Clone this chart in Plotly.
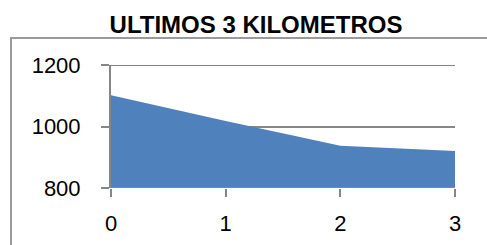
import plotly.graph_objects as go

x_km = [0, 1, 2, 3]
values = [1102, 1018, 937, 920]
y_ticks = [800, 1000, 1200]
title_text = "ULTIMOS 3 KILOMETROS"

W, H = 487, 245
L, R, T, B = 111, 32, 65, 57

fig = go.Figure()
fig.add_trace(go.Scatter(
    x=x_km, y=values, mode="lines", fill="tozeroy",
    line=dict(width=0, color="#4F81BD"), fillcolor="#4F81BD",
    hoverinfo="skip", showlegend=False,
))

pw = W - L - R
ph = H - T - B
fig.add_shape(type="rect", xref="paper", yref="paper",
              x0=(11 - L) / pw, x1=(W + 20 - L) / pw,
              y0=-(H + 20 - (T + ph)) / ph, y1=(T + ph - 38) / ph,
              line=dict(color="#9a9a9a", width=2), fillcolor="rgba(0,0,0,0)",
              layer="below")

fig.update_layout(
    width=W, height=H,
    margin=dict(l=L, r=R, t=T, b=B, autoexpand=False),
    paper_bgcolor="white", plot_bgcolor="white",
    title=dict(text="<b>" + title_text + "</b>", x=256 / W, xanchor="center",
               y=1 - 25 / H, yanchor="middle", automargin=False,
               font=dict(family="Liberation Sans, Arial", size=24, color="black")),
    font=dict(family="Liberation Sans, Arial", size=22, color="black"),
    xaxis=dict(range=[0, 3], tickvals=x_km, ticktext=[str(v) for v in x_km],
               showgrid=False, zeroline=False, showline=False, automargin=False,
               ticks="outside", ticklen=8, tickcolor="#868686", tickwidth=2,
               ticklabelstandoff=8),
    yaxis=dict(range=[800, 1200], tickvals=y_ticks, automargin=False,
               showgrid=True, gridcolor="#868686", gridwidth=2, zeroline=False,
               showline=True, linecolor="#868686", linewidth=2,
               ticks="outside", ticklen=8, tickcolor="#868686", tickwidth=2,
               ticklabelstandoff=16),
)
for yv in (y_ticks[0], y_ticks[-1]):
    fig.add_shape(type="line", xref="paper", yref="y", x0=0, x1=1, y0=yv, y1=yv,
                  line=dict(color="#868686", width=2), layer="above")

fig.write_html("out.html", config={"displayModeBar": False},
               post_script="document.body.style.margin='0';document.body.style.overflow='hidden';")
